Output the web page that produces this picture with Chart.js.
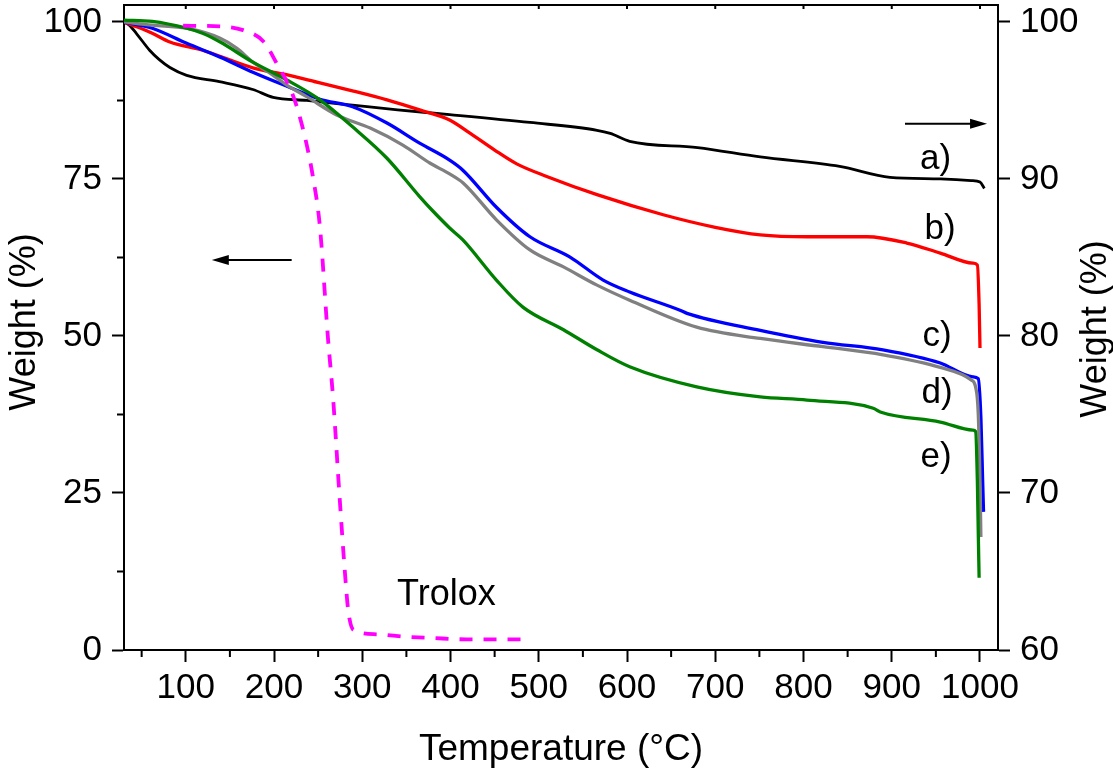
<!DOCTYPE html>
<html>
<head>
<meta charset="utf-8">
<script src="https://cdn.jsdelivr.net/npm/chart.js@4.4.0/dist/chart.umd.min.js"></script>
<style>
  html, body { margin: 0; padding: 0; background: #fff; }
</style>
</head>
<body>
<canvas id="tgaChart" width="1113" height="776"></canvas>
<script>
// TGA curves: temperature (°C) and weight (%)
// a) uses the right axis (60-100), the rest the left axis (0-100)
const tempA = [30, 36, 45, 59, 70, 82, 101, 138, 176, 199, 237, 289, 340, 399, 490, 566, 581, 603, 680, 751, 841, 898, 955, 990, 1000, 1005];
const weightA = [100, 99.8, 99.2, 98.2, 97.6, 97.1, 96.6, 96.2, 95.7, 95.2, 95.0, 94.7, 94.4, 94.1, 93.6, 93.1, 92.9, 92.4, 92.0, 91.4, 90.8, 90.1, 90.0, 89.9, 89.8, 89.4];

const tempB = [30, 45, 62, 82, 119, 176, 214, 252, 290, 328, 365, 399, 422, 450, 475, 509, 566, 641, 700, 751, 804, 872, 917, 955, 992, 997, 999, 1000];
const weightB = [100, 99.2, 98.2, 96.8, 95.5, 92.7, 91.6, 90.3, 89.0, 87.6, 86.0, 84.4, 82.3, 79.6, 77.4, 75.4, 72.5, 69.3, 67.3, 66.1, 65.8, 65.8, 64.8, 63.2, 61.6, 61.3, 55.0, 48.1];

const tempC = [30, 62, 101, 139, 176, 214, 252, 289, 328, 365, 399, 414, 452, 490, 535, 573, 603, 660, 668, 751, 822, 890, 955, 992, 998, 1001, 1003, 1004];
const weightC = [100, 99.0, 96.6, 94.4, 92.0, 89.8, 87.7, 86.5, 83.9, 80.7, 78.0, 76.4, 70.5, 65.8, 62.6, 58.9, 57.0, 54.1, 53.6, 50.9, 49.0, 47.8, 45.7, 43.5, 43.2, 37.0, 27.0, 22.0];

const tempD = [30, 62, 101, 139, 158, 176, 195, 214, 237, 271, 309, 346, 377, 399, 414, 452, 490, 528, 566, 603, 679, 751, 822, 890, 955, 990, 995, 998, 1000, 1001];
const weightD = [100, 99.5, 99.0, 97.4, 95.8, 93.6, 91.9, 90.0, 88.1, 85.2, 83.1, 80.4, 77.5, 75.8, 74.4, 68.5, 63.7, 61.0, 58.1, 55.7, 51.4, 49.6, 48.3, 47.0, 45.0, 43.0, 41.9, 37.7, 27.0, 18.0];

const tempE = [30, 62, 101, 119, 139, 176, 214, 252, 289, 328, 365, 380, 399, 414, 452, 482, 528, 566, 603, 679, 751, 804, 879, 887, 955, 992, 995, 997, 998, 999];
const weightE = [100.3, 100.1, 99.0, 98.2, 96.8, 93.6, 90.8, 87.6, 83.3, 78.3, 72.2, 69.9, 67.2, 65.3, 58.9, 54.6, 51.0, 47.8, 45.1, 41.9, 40.3, 39.8, 38.5, 37.9, 36.3, 35.0, 34.8, 27.0, 19.0, 11.5];

const tempTrolox = [97, 139, 165, 188, 203, 222, 235, 244, 252, 261, 267, 274, 280, 284, 290, 316, 350, 380, 418, 487];
const weightTrolox = [99.4, 99.3, 98.7, 96.9, 93.4, 88.1, 81.7, 75.4, 67.4, 49.9, 40.0, 25.0, 13.0, 6.4, 3.2, 2.5, 2.1, 1.9, 1.7, 1.7];

const xTicks = [100, 200, 300, 400, 500, 600, 700, 800, 900, 1000];
const leftTicks = [0, 25, 50, 75, 100];
const rightTicks = [60, 70, 80, 90, 100];
const curveNames = ['a)', 'b)', 'c)', 'd)', 'e)'];

// where the curve names sit, in (°C, left-axis %)
const namePos = [[949.6, 78.2], [954.7, 67.0], [951.3, 50.0], [951.3, 40.8], [950.2, 30.7]];

const FONT = "'Liberation Sans', Arial, sans-serif";
Chart.defaults.font.family = FONT;
Chart.defaults.color = '#000';

function toPoints(xs, ys) {
    return xs.map((x, i) => ({x: x, y: ys[i]}));
}

function curve(label, xs, ys, color, axis, width, order) {
    return {
        label: label,
        data: toPoints(xs, ys),
        yAxisID: axis,
        borderColor: color,
        borderWidth: width,
        pointRadius: 0,
        fill: false,
        cubicInterpolationMode: 'monotone',
        order: order
    };
}

function drawArrow(ctx, x1, x2, y) {
    const dir = x2 > x1 ? 1 : -1;
    ctx.beginPath();
    ctx.moveTo(x1, y);
    ctx.lineTo(x2 - dir * 14, y);
    ctx.stroke();
    ctx.beginPath();
    ctx.moveTo(x2, y);
    ctx.lineTo(x2 - dir * 17, y - 5);
    ctx.lineTo(x2 - dir * 17, y + 5);
    ctx.closePath();
    ctx.fill();
}

// no extra room for half tick labels, the frame is placed by hand
function fixBox(s, w, h) {
    if (w) s.width = w;
    if (h) s.height = h;
    s.paddingTop = 0;
    s.paddingBottom = 0;
    s.paddingLeft = 0;
    s.paddingRight = 0;
}

const extras = {
    id: 'extras',
    afterDraw(chart) {
        const ctx = chart.ctx;
        const area = chart.chartArea;
        const x = chart.scales.x, y = chart.scales.y;
        ctx.save();
        ctx.strokeStyle = '#000';
        ctx.fillStyle = '#000';
        ctx.lineWidth = 2;

        // top frame
        ctx.beginPath();
        ctx.moveTo(area.left - 1, area.top);
        ctx.lineTo(area.right + 1, area.top);
        ctx.stroke();

        // small inner ticks on the top frame, minor ticks on bottom and left
        ctx.beginPath();
        xTicks.forEach(v => {
            const px = x.getPixelForValue(v);
            ctx.moveTo(px, area.top);
            ctx.lineTo(px, area.top + 4);
        });
        for (let v = 50; v < 1000; v += 100) {
            const px = x.getPixelForValue(v);
            ctx.moveTo(px, area.bottom);
            ctx.lineTo(px, area.bottom + 7);
        }
        [12.5, 37.5, 62.5, 87.5].forEach(v => {
            const py = y.getPixelForValue(v);
            ctx.moveTo(area.left, py);
            ctx.lineTo(area.left - 7, py);
        });
        ctx.stroke();

        // arrows telling which axis goes with which curve
        drawArrow(ctx, x.getPixelForValue(220), x.getPixelForValue(129.5), y.getPixelForValue(62.1));
        drawArrow(ctx, x.getPixelForValue(915), x.getPixelForValue(1008), y.getPixelForValue(83.8));

        // curve names
        ctx.font = '35px ' + FONT;
        ctx.textAlign = 'center';
        ctx.textBaseline = 'middle';
        curveNames.forEach((name, i) => {
            ctx.fillText(name, x.getPixelForValue(namePos[i][0]), y.getPixelForValue(namePos[i][1]));
        });
        ctx.font = '36px ' + FONT;
        ctx.fillText('Trolox', x.getPixelForValue(395.3), y.getPixelForValue(8.8));

        // axis titles
        ctx.textBaseline = 'alphabetic';
        ctx.save();
        ctx.translate(35, 322);
        ctx.rotate(-Math.PI / 2);
        ctx.fillText('Weight (%)', 0, 0);
        ctx.restore();
        ctx.save();
        ctx.translate(1106, 329);
        ctx.rotate(-Math.PI / 2);
        ctx.fillText('Weight (%)', 0, 0);
        ctx.restore();
        ctx.font = '37px ' + FONT;
        ctx.fillText('Temperature (°C)', 561, 760);

        ctx.restore();
    }
};

const axisGrid = {
    drawOnChartArea: false,
    drawTicks: true,
    tickLength: 12,
    tickWidth: 2,
    tickColor: '#000'
};
const axisBorder = {color: '#000', width: 2};
const tickFont = {size: 35};

const ctx = document.getElementById('tgaChart').getContext('2d');
const tgaChart = new Chart(ctx, {
    type: 'line',
    data: {
        datasets: [
            curve('a)', tempA, weightA, '#000000', 'y1', 2.8, 5),
            curve('b)', tempB, weightB, '#ff0000', 'y', 3.3, 4),
            curve('c)', tempC, weightC, '#0000ff', 'y', 3.3, 3),
            curve('d)', tempD, weightD, '#808080', 'y', 3.3, 2),
            curve('e)', tempE, weightE, '#008000', 'y', 3.3, 1),
            Object.assign(curve('Trolox', tempTrolox, weightTrolox, '#ff00ff', 'y', 3.8, 0), {borderDash: [13, 11]})
        ]
    },
    options: {
        responsive: false,
        devicePixelRatio: 1,
        animation: false,
        events: [],
        layout: {padding: {top: 5, left: 0, right: 0, bottom: 0}},
        plugins: {legend: {display: false}, tooltip: {enabled: false}},
        scales: {
            x: {
                type: 'linear',
                position: 'bottom',
                min: 30,
                max: 1020.4,
                afterBuildTicks: s => { s.ticks = xTicks.map(v => ({value: v})); },
                afterFit: s => fixBox(s, 0, 126),
                ticks: {font: tickFont, color: '#000', padding: 5, maxRotation: 0, autoSkip: false, callback: v => String(v)},
                grid: axisGrid,
                border: axisBorder
            },
            y: {
                type: 'linear',
                position: 'left',
                min: 0,
                max: 102.7,
                afterBuildTicks: s => { s.ticks = leftTicks.map(v => ({value: v})); },
                afterFit: s => fixBox(s, 124, 0),
                ticks: {font: tickFont, color: '#000', padding: 10, callback: v => String(v)},
                grid: axisGrid,
                border: axisBorder
            },
            y1: {
                type: 'linear',
                position: 'right',
                min: 60,
                max: 101.08,
                afterBuildTicks: s => { s.ticks = rightTicks.map(v => ({value: v})); },
                afterFit: s => fixBox(s, 115, 0),
                ticks: {font: tickFont, color: '#000', padding: 10, callback: v => String(v)},
                grid: axisGrid,
                border: axisBorder
            }
        }
    },
    plugins: [extras]
});
</script>
</body>
</html>
